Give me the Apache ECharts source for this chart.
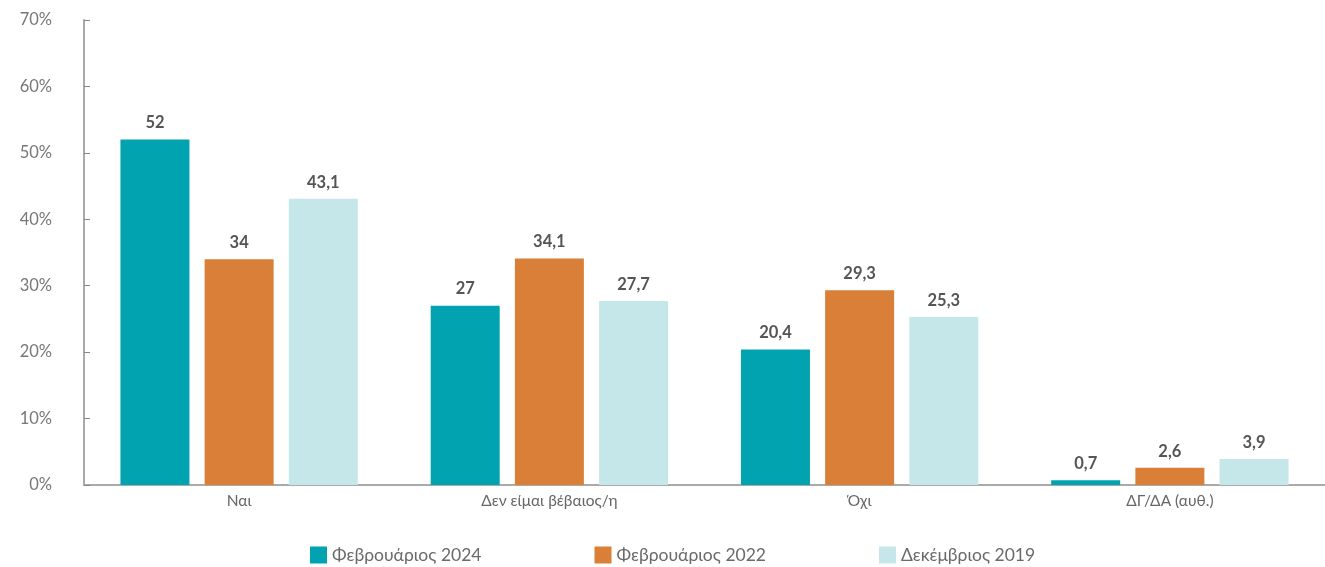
<!DOCTYPE html>
<html><head><meta charset="utf-8">
<script src="https://cdn.jsdelivr.net/npm/echarts@6/dist/echarts.min.js"></script>
<style>html,body{margin:0;padding:0;background:#fff}#c{width:1325px;height:567px}</style>
</head><body><div id="c"></div>
<script>
const categories = ['Ναι', 'Δεν είμαι βέβαιος/η', 'Όχι', 'ΔΓ/ΔΑ (αυθ.)'];
const seriesNames = ['Φεβρουάριος 2024', 'Φεβρουάριος 2022', 'Δεκέμβριος 2019'];
const feb2024 = [52, 27, 20.4, 0.7];
const feb2022 = [34, 34.1, 29.3, 2.6];
const dec2019 = [43.1, 27.7, 25.3, 3.9];
const colors = ['#00A3AF', '#DA7F37', '#C6E7E9'];

const chart = echarts.init(document.getElementById('c'));
const font = 'Lato, "Noto Sans", sans-serif';
const mk = (name, data, i) => ({
  name, type: 'bar', data,
  barWidth: 69, barGap: '22%',
  itemStyle: { color: colors[i] },
  label: { show: true, position: 'top', distance: 8, color: '#555', fontSize: 16.5, fontWeight: 'bold', fontFamily: font,
    formatter: p => String(p.value).replace('.', ',') }
});
chart.setOption({
  animation: false,
  textStyle: { fontFamily: font },
  color: colors,
  legend: {
    top: 541, left: 305, itemWidth: 17, itemHeight: 17, itemGap: 113,
    icon: 'rect',
    textStyle: { color: '#6a6a6a', fontSize: 17.5, fontFamily: font },
    data: seriesNames
  },
  grid: { left: 84, right: -2, top: 20, bottom: 82 },
  xAxis: {
    type: 'category', data: categories,
    axisLine: { lineStyle: { color: '#aaa', width: 2 } },
    axisTick: { show: false },
    axisLabel: { color: '#666', fontSize: 15.5, margin: 8 }
  },
  yAxis: {
    type: 'value', min: 0, max: 70, interval: 10,
    axisLine: { show: true, lineStyle: { color: '#aaa', width: 2 } },
    axisTick: { show: true, inside: true, length: 6, lineStyle: { color: '#888' } },
    splitLine: { show: false },
    axisLabel: { color: '#777', fontSize: 16.5, margin: 32, formatter: '{value}%' }
  },
  series: [mk(seriesNames[0], feb2024, 0), mk(seriesNames[1], feb2022, 1), mk(seriesNames[2], dec2019, 2)]
});
</script></body></html>
